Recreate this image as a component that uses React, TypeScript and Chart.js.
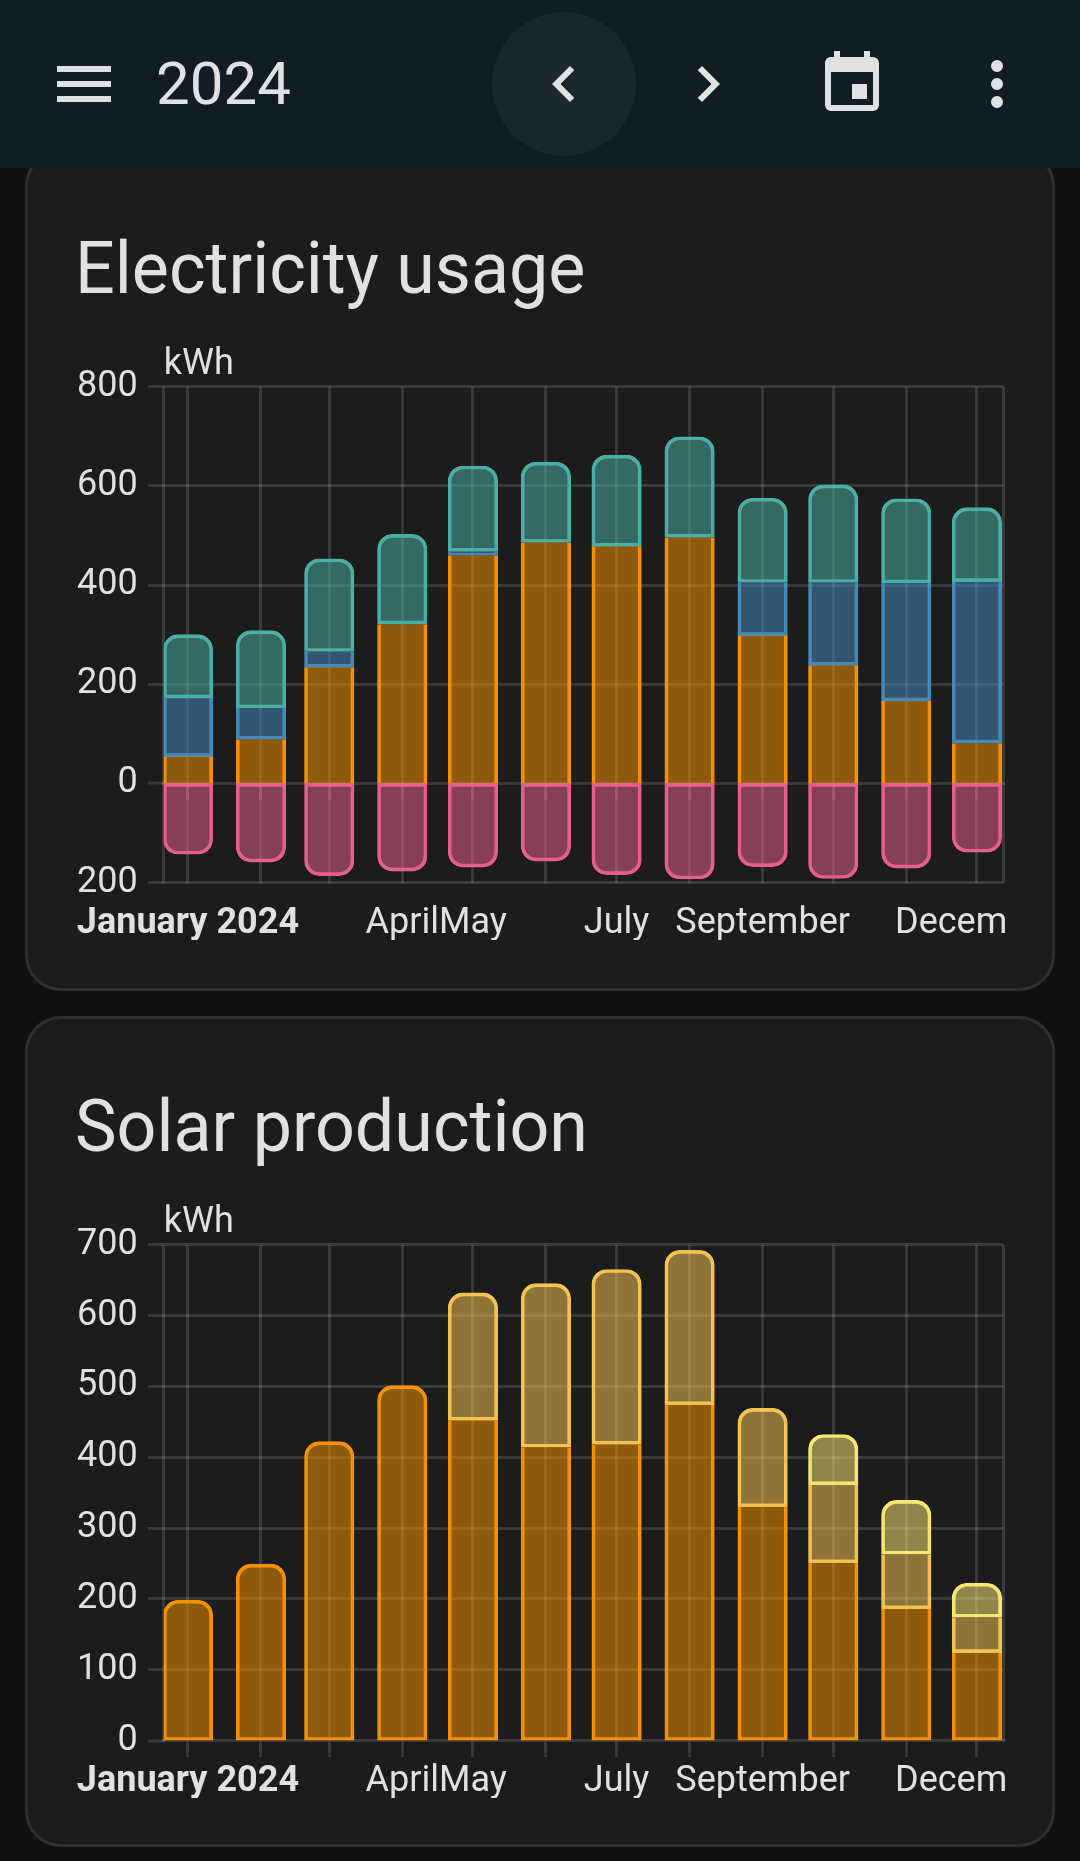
import { useEffect, useRef } from 'react'
import { Chart, registerables } from 'chart.js'

Chart.register(...registerables)

// day of the year on which each month starts (2024)
const monthDays = [0, 31, 60, 91, 121, 152, 182, 213, 244, 274, 305, 335]
const monthLabels = ['January 2024', '', '', 'April', 'May', '', 'July', '', 'September', '', '', 'December']

const gridConsumption = [54, 89, 234, 321, 460, 486, 478, 496, 298, 238, 166, 81]
const gridImport = [118, 63, 32, 0, 8, 0, 0, 0, 107, 167, 238, 326]
const gridExport = [128, 156, 187, 181, 172, 162, 184, 203, 170, 197, 170, 149]
const batteryOut = [-143, -159, -186, -177, -169, -157, -184, -193, -168, -192, -171, -139]

const solarOne = [198, 249, 422, 501, 452, 414, 418, 474, 330, 251, 186, 124]
const solarTwo = [0, 0, 0, 0, 180, 231, 247, 218, 139, 110, 77, 50]
const solarThree = [0, 0, 0, 0, 0, 0, 0, 0, 0, 71, 76, 48]

const COLORS = {
  orange: '#ff9800',
  blue: '#488fc2',
  teal: '#4db6ac',
  pink: '#f06292',
  gold: '#ffcc55',
  lemon: '#fff176',
  text: '#e1e1e1',
  grid: 'rgba(255,255,255,0.13)',
}

const BAR_BORDER = 3
const BAR_RADIUS = 15
const GRID_WIDTH = 3
const FONT = 'Roboto'

function fill(hex: string) {
  return hex + '80'
}

function stroke(hex: string) {
  return hex + 'f2'
}

// one stack of positive bars, bottom first. the rounded end only sits on the topmost bar
function stackDatasets(stack: { label: string; values: number[]; color: string }[], bottomBorder: boolean) {
  const isTop = (level: number, i: number) => stack.slice(level + 1).every(s => !s.values[i])
  return stack.map((s, level) => ({
    label: s.label,
    data: monthDays.map((d, i) => ({ x: d, y: s.values[i] })),
    backgroundColor: fill(s.color),
    borderColor: stroke(s.color),
    borderSkipped: false,
    borderWidth: (ctx: any) => ({
      top: isTop(level, ctx.dataIndex) ? BAR_BORDER : 0,
      bottom: level === 0 && !bottomBorder ? 0 : BAR_BORDER,
      left: BAR_BORDER,
      right: BAR_BORDER,
    }),
    borderRadius: (ctx: any) => {
      const r = isTop(level, ctx.dataIndex) ? BAR_RADIUS : 0
      return { topLeft: r, topRight: r, bottomLeft: 0, bottomRight: 0 }
    },
  }))
}

function negativeDataset(label: string, values: number[], color: string) {
  return {
    label,
    data: monthDays.map((d, i) => ({ x: d, y: values[i] })),
    backgroundColor: fill(color),
    borderColor: stroke(color),
    borderSkipped: false,
    borderWidth: BAR_BORDER,
    borderRadius: { topLeft: 0, topRight: 0, bottomLeft: BAR_RADIUS, bottomRight: BAR_RADIUS },
  }
}

const X_MIN = -10.3
const X_MAX = 346.2

function buildChart(canvas: HTMLCanvasElement, datasets: any[], yMin: number, yMax: number, yStep: number) {
  return new Chart(canvas, {
    type: 'bar',
    data: { datasets },
    options: {
      responsive: false,
      animation: false,
      devicePixelRatio: 1,
      layout: { padding: { right: 3.7 } },
      datasets: { bar: { barThickness: 49.5 } },
      plugins: {
        legend: { display: false },
        tooltip: { enabled: false },
        title: {
          display: true,
          text: 'kWh',
          align: 'start',
          fullSize: false,
          color: COLORS.text,
          font: { family: FONT, size: 36, weight: 'normal', lineHeight: 1.2 },
          padding: { top: 22.9, bottom: 0.6 },
        },
      },
      scales: {
        x: {
          type: 'linear',
          stacked: true,
          offset: false,
          min: X_MIN,
          max: X_MAX,
          afterBuildTicks: (scale: any) => {
            scale.ticks = [X_MIN, ...monthDays, X_MAX].map(value => ({ value }))
          },
          afterFit: (scale: any) => {
            scale.height = 57.5
            // tick padding must not shrink the plot, December is allowed to run off the canvas
            scale.paddingLeft = 0
            scale.paddingRight = 0
          },
          grid: { offset: false, color: COLORS.grid, lineWidth: GRID_WIDTH, drawTicks: false },
          border: { display: false },
          ticks: {
            autoSkip: false,
            maxRotation: 0,
            minRotation: 0,
            padding: 20,
            color: COLORS.text,
            font: (ctx: any) => ({
              family: FONT,
              size: 36,
              weight: ctx.tick && ctx.tick.value === monthDays[0] ? 'bold' : 'normal',
            }),
            callback: (value: any) => {
              const i = monthDays.indexOf(value)
              return i >= 0 ? monthLabels[i] : ''
            },
          },
        },
        // zero line and the short month ticks hanging off it
        xTicks: {
          type: 'linear',
          axis: 'x',
          position: { y: 0 },
          offset: false,
          min: X_MIN,
          max: X_MAX,
          afterBuildTicks: (scale: any) => {
            scale.ticks = monthDays.map(value => ({ value }))
          },
          grid: { offset: false, drawOnChartArea: false, color: COLORS.grid, lineWidth: GRID_WIDTH, tickLength: 15 },
          border: { display: true, color: COLORS.grid, width: GRID_WIDTH },
          ticks: { display: false, padding: 0 },
        },
        y: {
          stacked: true,
          min: yMin,
          max: yMax,
          afterFit: (scale: any) => {
            scale.width = 90.7
          },
          grid: {
            color: COLORS.grid,
            // no line at zero here, otherwise bars get inset by half of it
            lineWidth: (ctx: any) => (ctx.tick && ctx.tick.value === 0 ? 0 : GRID_WIDTH),
            tickWidth: GRID_WIDTH,
            tickLength: 16,
          },
          border: { display: false },
          ticks: {
            stepSize: yStep,
            padding: 10,
            color: COLORS.text,
            font: { family: FONT, size: 36 },
            callback: (value: any) => String(Math.abs(value)),
          },
        },
      },
    } as any,
  } as any)
}

function EnergyChart({ top, build }: { top: number; build: (c: HTMLCanvasElement) => Chart }) {
  const ref = useRef<HTMLCanvasElement>(null)
  useEffect(() => {
    if (!ref.current) return
    const chart = build(ref.current)
    return () => chart.destroy()
  }, [])
  return (
    <canvas
      ref={ref}
      width={934}
      height={620}
      style={{ position: 'absolute', left: 73, top, width: 934, height: 620, display: 'block' }}
    />
  )
}

function Icon({ left, path }: { left: number; path: string }) {
  return (
    <svg
      viewBox="0 0 24 24"
      width={72}
      height={72}
      style={{ position: 'absolute', left, top: 48 }}
    >
      <path d={path} fill={COLORS.text} fillRule="evenodd" />
    </svg>
  )
}

const cardStyle = {
  position: 'absolute',
  left: 25,
  width: 1030,
  boxSizing: 'border-box',
  background: '#1c1c1c',
  border: '3px solid #303030',
  borderRadius: 36,
} as const

const titleStyle = {
  position: 'absolute',
  left: 75,
  fontSize: 72,
  lineHeight: '72px',
  color: COLORS.text,
  whiteSpace: 'nowrap',
  transform: 'scaleX(0.972)',
  transformOrigin: 'left',
} as const

export default function App() {
  return (
    <div style={{ position: 'relative', width: 1080, height: 1861, overflow: 'hidden', background: '#111111', fontFamily: FONT }}>
      <style>{'body{margin:0;background:#111111}'}</style>

      <div style={{ ...cardStyle, top: 150, height: 841 }} />
      <div style={{ ...titleStyle, top: 233 }}>Electricity usage</div>
      <EnergyChart
        top={320}
        build={c =>
          buildChart(
            c,
            [
              ...stackDatasets(
                [
                  { label: 'Solar', values: gridConsumption, color: COLORS.orange },
                  { label: 'Grid', values: gridImport, color: COLORS.blue },
                  { label: 'Return', values: gridExport, color: COLORS.teal },
                ],
                false
              ),
              negativeDataset('Battery', batteryOut, COLORS.pink),
            ],
            -200,
            800,
            200
          )
        }
      />

      <div style={{ ...cardStyle, top: 1016, height: 831 }} />
      <div style={{ ...titleStyle, top: 1091 }}>Solar production</div>
      <EnergyChart
        top={1178}
        build={c =>
          buildChart(
            c,
            stackDatasets(
              [
                { label: 'South', values: solarOne, color: COLORS.orange },
                { label: 'West', values: solarTwo, color: COLORS.gold },
                { label: 'East', values: solarThree, color: COLORS.lemon },
              ],
              true
            ),
            0,
            700,
            100
          )
        }
      />

      {/* top app bar */}
      <div style={{ position: 'absolute', left: 0, top: 0, width: 1080, height: 168, background: '#101e24' }}>
        <Icon left={48} path="M3,6H21V8H3V6M3,11H21V13H3V11M3,16H21V18H3V16Z" />
        <div style={{ position: 'absolute', left: 156, top: 48, fontSize: 60, lineHeight: '72px', color: COLORS.text }}>2024</div>
        <div style={{ position: 'absolute', left: 492, top: 12, width: 144, height: 144, borderRadius: 72, background: '#1a282e' }} />
        <Icon left={527.5} path="M15.41,16.58L10.83,12L15.41,7.41L14,6L8,12L14,18L15.41,16.58Z" />
        <Icon left={671.7} path="M8.59,16.58L13.17,12L8.59,7.41L10,6L16,12L10,18L8.59,16.58Z" />
        <Icon left={816} path="M19,3H18V1H16V3H8V1H6V3H5C3.89,3 3,3.9 3,5V19A2,2 0 0,0 5,21H19A2,2 0 0,0 21,19V5A2,2 0 0,0 19,3M19,19H5V8H19V19M12,12H17V17H12V12Z" />
        <Icon left={961} path="M12,16A2,2 0 0,1 14,18A2,2 0 0,1 12,20A2,2 0 0,1 10,18A2,2 0 0,1 12,16M12,10A2,2 0 0,1 14,12A2,2 0 0,1 12,14A2,2 0 0,1 10,12A2,2 0 0,1 12,10M12,4A2,2 0 0,1 14,6A2,2 0 0,1 12,8A2,2 0 0,1 10,6A2,2 0 0,1 12,4Z" />
      </div>
    </div>
  )
}
